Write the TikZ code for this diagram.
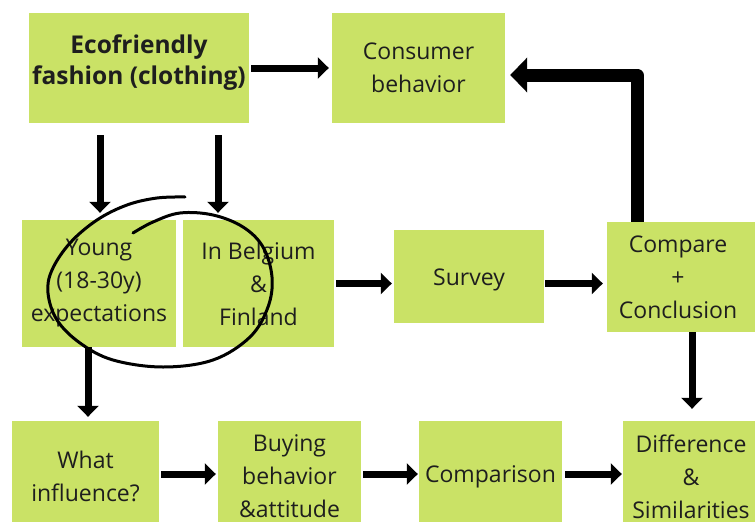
\documentclass[tikz,border=0pt]{standalone}
\usepackage{fontspec}
\setmainfont{Open Sans}
\usetikzlibrary{arrows.meta}
\definecolor{boxgreen}{RGB}{202,226,102}
\definecolor{txt}{RGB}{30,30,30}
\tikzset{
  box/.style={fill=boxgreen, text=txt, align=center, inner sep=0pt,
    font=\fontsize{23}{33}\selectfont},
  lbl/.style={text=txt, align=center, inner sep=0pt},
  arr/.style={line width=7pt, -{Triangle[length=11pt,width=21pt]}},
  bigarr/.style={line width=13pt, line join=round, -{Triangle[length=17pt,width=34pt]}},
  loop/.style={line width=3pt, line cap=round}
}
\begin{document}
\begin{tikzpicture}[x=1pt,y=-1pt]
\useasboundingbox (0,0) rectangle (755,522);
\clip (0,0) rectangle (755,522);
% top row
\node[box, minimum width=220pt, minimum height=110pt] (eco) at (139,68) {};
\node[lbl, font=\fontsize{24.5}{31}\selectfont\bfseries] (ecotext) at ([yshift=5pt]eco.center) {Ecofriendly\\fashion (clothing)};
\node[box, minimum width=173pt, minimum height=110pt] (cons) at (418.5,68) {Consumer\\behavior};
% middle row
\node[box, minimum width=154pt, minimum height=127pt] (young) at (99,283.5) {Young\\(18-30y)\\expectations};
\node[box, minimum width=151pt, minimum height=127pt] (belg) at (258.5,283.5) {In Belgium\\\&\\Finland};
\node[box, minimum width=150pt, minimum height=93pt] (survey) at (469,276.5) {};
\node[lbl, font=\fontsize{23}{33}\selectfont] (surveytext) at ([yshift=-3pt]survey.center) {Survey};
\node[box, minimum width=148pt, minimum height=110pt] (comp) at (681,277) {};
\node[lbl, font=\fontsize{23}{33}\selectfont] (comptext) at ([xshift=-3pt]comp.center) {Compare\\+\\Conclusion};
% bottom row
\node[box, minimum width=147pt, minimum height=111pt] (what) at (85.5,476.5) {What\\influence?};
\node[box, minimum width=143pt, minimum height=111pt] (buy) at (289.5,476.5) {Buying\\behavior\\\&attitude};
\node[box, minimum width=143pt, minimum height=111pt] (cmp) at (490.5,476.5) {Comparison};
\node[box, minimum width=136pt, minimum height=111pt] (diff) at (691,476.5) {Difference\\\&\\Similarities};
% arrows
\draw[arr, shorten <=2pt, shorten >=3pt] (eco.east) -- (cons.west);
\draw[arr, shorten >=7pt] ([xshift=-39pt,yshift=-12pt]eco.south) -- ([xshift=-39pt]eco.south |- young.north);
\draw[arr, shorten >=7pt] ([xshift=79pt,yshift=-12pt]eco.south) -- ([xshift=79pt]eco.south |- belg.north);
\draw[arr, shorten <=2pt, shorten >=2pt] (belg.east) -- (belg.east -| survey.west);
\draw[arr, shorten <=1pt, shorten >=4pt] (survey.east |- belg.east) -- (comp.west |- belg.east);
\draw[arr, shorten >=12pt] ([xshift=11pt]comp.south) -- ([xshift=11pt]comp.south |- diff.north);
\draw[arr, shorten >=4pt] ([xshift=-11pt]young.south) -- ([xshift=-11pt]young.south |- what.north);
\draw[arr, shorten <=2pt, shorten >=2pt] ([yshift=2.5pt]what.east) -- ([yshift=2.5pt]buy.west);
\draw[arr, shorten <=2pt, shorten >=1pt] ([yshift=2.5pt]buy.east) -- ([yshift=2.5pt]cmp.west);
\draw[arr, shorten <=3pt, shorten >=1pt] ([yshift=2.5pt]cmp.east) -- ([yshift=2.5pt]diff.west);
\draw[bigarr, shorten >=5pt] ([xshift=-44pt]comp.north) |- ([yshift=-7pt]cons.east);
% hand-drawn loop
\draw[loop] plot[smooth, tension=0.6] coordinates {
  (185,197) (157,198) (127,205) (97,220) (70,243) (52,270) (48,293) (57,320)
  (80,343) (113,360) (163,367) (213,360) (250,337) (268,307) (272,277)
  (263,247) (243,227) (213,215) (180,213) (153,222) (133,233)};
\end{tikzpicture}
\end{document}
